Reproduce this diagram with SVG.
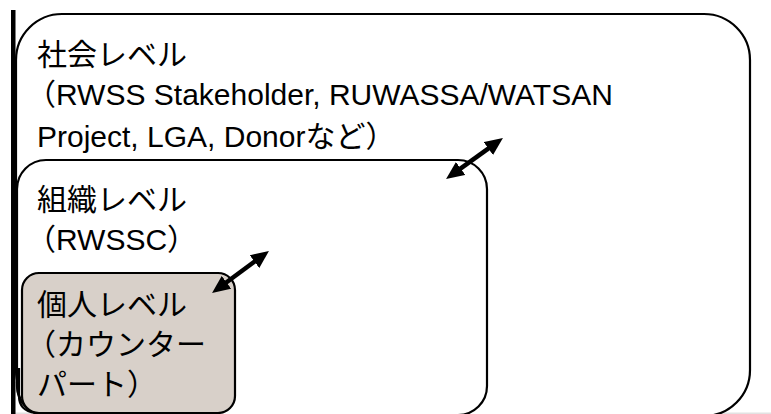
<svg xmlns="http://www.w3.org/2000/svg" width="771" height="414" viewBox="0 0 771 414">
<style>
.box{stroke:#000;stroke-width:2.2}
.t{font-family:"Liberation Sans","Noto Sans CJK JP",sans-serif;font-size:30px;fill:#000}
.conn{stroke:#000;stroke-width:4.5;fill:none}
</style>
<defs>
<marker id="ah" viewBox="0 0 18 16" refX="5" refY="8" markerWidth="18" markerHeight="16" markerUnits="userSpaceOnUse" orient="auto-start-reverse">
<path d="M0,0 L18,8 L0,16 z" fill="#000"/>
</marker>
</defs>
<rect x="0" y="0" width="771" height="414" fill="#fff"/>
<rect x="15" y="412.5" width="756" height="1.5" fill="#e2e2e2"/>
<g id="society">
<rect class="box" x="16" y="14" width="734" height="402" rx="46" ry="46" fill="#fff"/>
<text class="t" x="37" y="65">社会レベル</text>
<text class="t" x="26" y="105">（RWSS Stakeholder, RUWASSA/WATSAN</text>
<text class="t" x="37" y="147">Project, LGA, Donorなど）</text>
</g>
<g id="organization">
<rect class="box" x="17" y="160" width="470" height="255" rx="29" ry="29" fill="#fff"/>
<text class="t" x="37" y="210">組織レベル</text>
<text class="t" x="26" y="250">（RWSSC）</text>
</g>
<g id="individual">
<path class="box" d="M19,368 L19,396 Q19,411 36,413" fill="none"/>
<path class="box" d="M17,382 Q17,409 42,414" fill="none"/>
<rect class="box" x="22" y="273" width="213" height="140" rx="17" ry="17" fill="#d8d0c9"/>
<text class="t" x="37" y="315">個人レベル</text>
<text class="t" x="26" y="355">（カウンター</text>
<text class="t" x="37" y="395">パート）</text>
</g>
<rect x="11" y="10" width="4.5" height="404" fill="#000"/>
<g id="connectors">
<line class="conn" x1="456.6" y1="171.4" x2="492.4" y2="145.6" marker-start="url(#ah)" marker-end="url(#ah)"/>
<line class="conn" x1="222.5" y1="285.3" x2="258.5" y2="258.7" marker-start="url(#ah)" marker-end="url(#ah)"/>
</g>
</svg>
